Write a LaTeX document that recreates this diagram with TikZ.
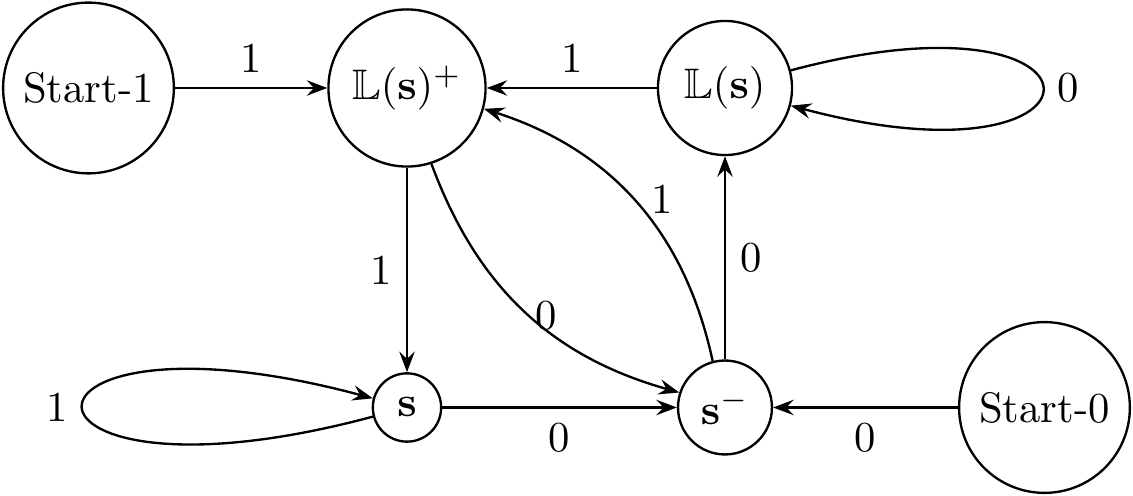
\documentclass[tikz,border=0pt]{standalone}
\usepackage{amssymb}
\usetikzlibrary{arrows.meta}
\begin{document}
\begin{tikzpicture}[x=0.2342pt,y=0.2342pt, line width=0.55pt,
  >={Stealth[length=4.8pt,width=3.6pt,inset=1.7pt]},
  st/.style={draw,circle,inner sep=0pt},
  lbl/.style={inner sep=3.3pt},
  clbl/.style={inner sep=1pt}]
\useasboundingbox (0,0) rectangle (1133,-496);
\node[st,minimum size=40pt]   (S1) at (88.5,-88) {Start-1};
\node[st,minimum size=36.8pt] (Lp) at (407,-88) {$\mathbb{L}(\mathbf{s})^+$};
\node[st,minimum size=31.4pt] (L)  at (725,-88) {$\mathbb{L}(\mathbf{s})$};
\node[st,minimum size=16pt]   (s)  at (407,-407.5) {$\mathbf{s}$};
\node[st,minimum size=22pt]   (sm) at (725,-407.5) {$\mathbf{s}^-$};
\node[st,minimum size=40pt]   (S0) at (1044.5,-407.5) {Start-0};

\draw[->] (S1) -- node[lbl,above]{1} (Lp);
\draw[->] (L) -- node[lbl,above]{1} (Lp);
\draw[->] (Lp) -- node[lbl,left]{1} (s);
\draw[->] (sm) -- node[lbl,right]{0} (L);
\draw[->] (s) -- node[lbl,below]{0} (sm);
\draw[->] (S0) -- node[lbl,below]{0} (sm);
\draw[->] (Lp) to[bend right=27] node[clbl,pos=0.52,anchor=west]{0} (sm);
\draw[->] (sm) to[bend right=30] node[clbl,pos=0.45,anchor=south west,yshift=-1pt]{1} (Lp);
\draw[->] (L.15) .. controls +(15:347) and +(-15:347) .. node[lbl,right]{0} (L.-15);
\draw[->] (s.195) .. controls +(195:400) and +(165:400) .. node[lbl,left]{1} (s.165);
\end{tikzpicture}
\end{document}
